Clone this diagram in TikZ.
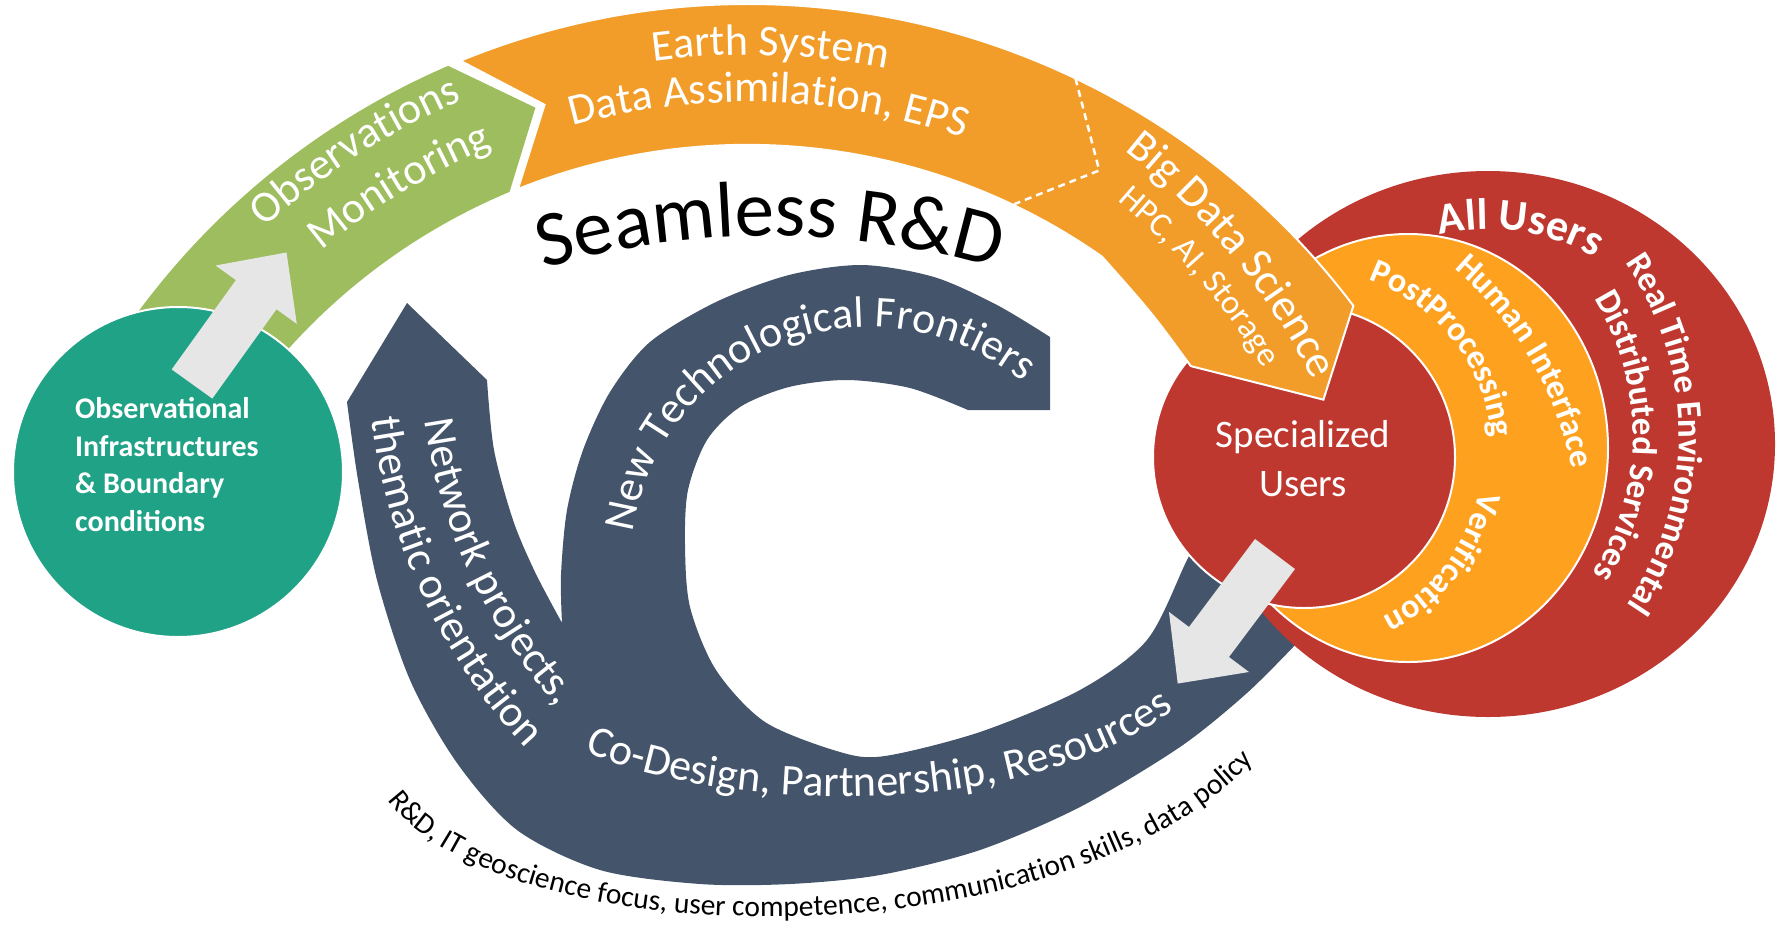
\documentclass[tikz,border=0pt]{standalone}
\usepackage{fontspec}
\setmainfont{Carlito}
\usetikzlibrary{decorations.text}

\definecolor{bandorange}{HTML}{F29D29}
\definecolor{ringorange}{HTML}{FDA11F}
\definecolor{obsgreen}{HTML}{9DBD5E}
\definecolor{infrateal}{HTML}{20A286}
\definecolor{slate}{HTML}{44546A}
\definecolor{userred}{HTML}{BE3830}
\definecolor{arrowgray}{HTML}{E6E6E6}

\newcommand\bandfont{\fontsize{44}{52}\selectfont}
\newcommand\bigdatafont{\fontsize{45}{54}\selectfont}
\newcommand\hpcfont{\fontsize{34}{42}\selectfont}
\newcommand\seamfont{\fontsize{79}{92}\selectfont}
\newcommand\notefont{\fontsize{29.5}{35}\selectfont}
\newcommand\ringfont{\bfseries\fontsize{34}{40}\selectfont}
\newcommand\realfont{\bfseries\fontsize{35}{42}\selectfont}
\newcommand\allfont{\bfseries\fontsize{44}{52}\selectfont}

% tail x, tail y, angle
\newcommand\grayarrow[3]{\fill[arrowgray, shift={(#1,#2)}, rotate=#3] (0,-25) -- (110,-25) -- (110,-50) -- (162,0) -- (110,50) -- (110,25) -- (0,25) -- cycle;}

\tikzset{
  bandtext/.style={decorate, decoration={text along path, text align=center, text color=white, text={#1}}},
  darktext/.style={decorate, decoration={text along path, text align=center, text color=black, text={#1}}},
}

\begin{document}
\begin{tikzpicture}[x=1pt,y=-1pt]
\useasboundingbox (0,0) rectangle (1785,924);

% spiral and inner C
\fill[slate] (407,303) -- (487,380)
  -- plot[smooth] coordinates {(487,380) (494,450) (513,520) (535,572) (562,623)}
  -- plot[smooth] coordinates {(562,623) (561,575) (567,510) (583,450) (610,392) (650,342) (716,302) (789,275) (862,265) (934,277) (997,305) (1050,337)}
  -- (1050,410) -- (968,410)
  -- plot[smooth] coordinates {(968,410) (910,388) (847,380) (789,387) (740,407) (707,440) (688,490) (685,545) (690,607) (716,670) (765,722) (840,752) (885,756) (980,732) (1080,690) (1147,640) (1187,560) (1215,505)}
  -- (1330,620) -- (1298,642)
  -- plot[smooth] coordinates {(1298,642) (1247,693) (1180,747) (1080,807) (980,850) (880,875) (790,884) (700,884) (600,870) (517,830) (457,763) (410,680) (377,580) (358,480) (347,402)}
  -- cycle;

\fill[userred] (1488,444) ellipse[x radius=287, y radius=273];
\fill[ringorange, draw=white, line width=2] (1408,448) ellipse[x radius=200, y radius=214];
\fill[userred, draw=white, line width=2] (1304,457) circle[radius=151];

\begin{scope}[shift={(748,762)}]
\fill[bandorange, draw=white, line width=2] (-112.3:758) arc[start angle=-112.3, end angle=-37, radius=758]
  -- (-32.2:680) -- (-41.8:594) .. controls (-48:604) .. (-55:617)
  arc[start angle=-55, end angle=-111.8, radius=618] -- (-107.2:688) -- cycle;
\draw[white, line width=2.5, dash pattern=on 7pt off 5pt] (-64.4:758) -- (-59.3:688) -- (-64.5:618);
\fill[obsgreen] (-150:758) arc[start angle=-150, end angle=-113.3, radius=758]
  -- (-108:688) -- (-112.7:618) arc[start angle=-112.7, end angle=-150, radius=618] -- cycle;
\end{scope}

\fill[infrateal, draw=white, line width=2] (178,472) circle[radius=165];

\grayarrow{192}{384}{54.3}
\grayarrow{1275}{554}{-126.9}

\begin{scope}[shift={(748,762)}]
\path[bandtext={|\bandfont|Earth System}] (-128.2:707) arc[start angle=-128.2, end angle=-48.2, radius=707];
\path[bandtext={|\bandfont|Data Assimilation, EPS}] (-128.2:660) arc[start angle=-128.2, end angle=-48.2, radius=660];
\path[bandtext={|\bandfont|Observations}] (-162.75:721) arc[start angle=-162.75, end angle=-82.75, radius=721];
\path[bandtext={|\bandfont|Monitoring}] (-161.2:666) arc[start angle=-161.2, end angle=-81.2, radius=666];
\path[bandtext={|\bigdatafont|Big Data Science}] plot[domain=-79.6:-10.6, samples=40] (\x:{702-1.5*(\x+47.5)});
\path[bandtext={|\hpcfont|HPC, AI, Storage}] plot[domain=-81:-11, samples=40] (\x:{659-1.2*(\x+46)});
\end{scope}

\path[darktext={|\seamfont|Seamless R{\&}D}] (770,1047) ++(-112:811) arc[start angle=-112, end angle=-68, radius=811];

\path[bandtext={|\bandfont|New Technological Frontiers}] (870,567) ++(-201:240) arc[start angle=-201, end angle=-21, radius=240];
\path[bandtext={|\bandfont|Network projects,}] (950,350) ++(200:530) arc[start angle=200, end angle=110, radius=530];
\path[bandtext={|\bandfont|thematic orientation}] (950,350) ++(200:582) arc[start angle=200, end angle=110, radius=582];
\path[bandtext={|\bandfont|Co-Design, Partnership, Resources}] (558,738) .. controls (690,815) and (1045,832) .. (1197,691);
\path[darktext={|\notefont|R{\&}D, IT geoscience focus, user competence, communication skills, data policy}, decoration={text align=left}] (388,800) .. controls (510,965) and (1110,965) .. (1275,735);

\path[bandtext={|\ringfont|PostProcessing}] (1304,457) ++(-97.9:189) arc[start angle=-97.9, end angle=22.1, radius=189];
\path[bandtext={|\ringfont|Verification}] (1304,457) ++(-22.5:178) arc[start angle=-22.5, end angle=97.5, radius=178];
\path[bandtext={|\ringfont|Human Interface}] (1224,539) ++(-70.5:355) arc[start angle=-70.5, end angle=9.5, radius=355];
\path[bandtext={|\realfont|Real Time Environmental}] (1376,435) ++(-60.25:303) arc[start angle=-60.25, end angle=59.75, radius=303];
\path[bandtext={|\realfont|Distributed Services}] (1376,435) ++(-59.75:257) arc[start angle=-59.75, end angle=60.25, radius=257];
\path[bandtext={|\allfont|All Users}] (1488,444) ++(-121.6:215) arc[start angle=-121.6, end angle=-41.6, radius=215];

\node[anchor=north west, align=left, inner sep=0, text=white, font=\bfseries\fontsize{30}{37.7}\selectfont] (infra) at (75,397) {Observational\\Infrastructures\\\& Boundary\\conditions};
\node[anchor=base, inner sep=0, text=white, font=\fontsize{39}{48}\selectfont] (special) at (1303,447) {Specialized};
\node[anchor=base, inner sep=0, text=white, font=\fontsize{39}{48}\selectfont] (users) at (1303,496) {Users};
\end{tikzpicture}
\end{document}
